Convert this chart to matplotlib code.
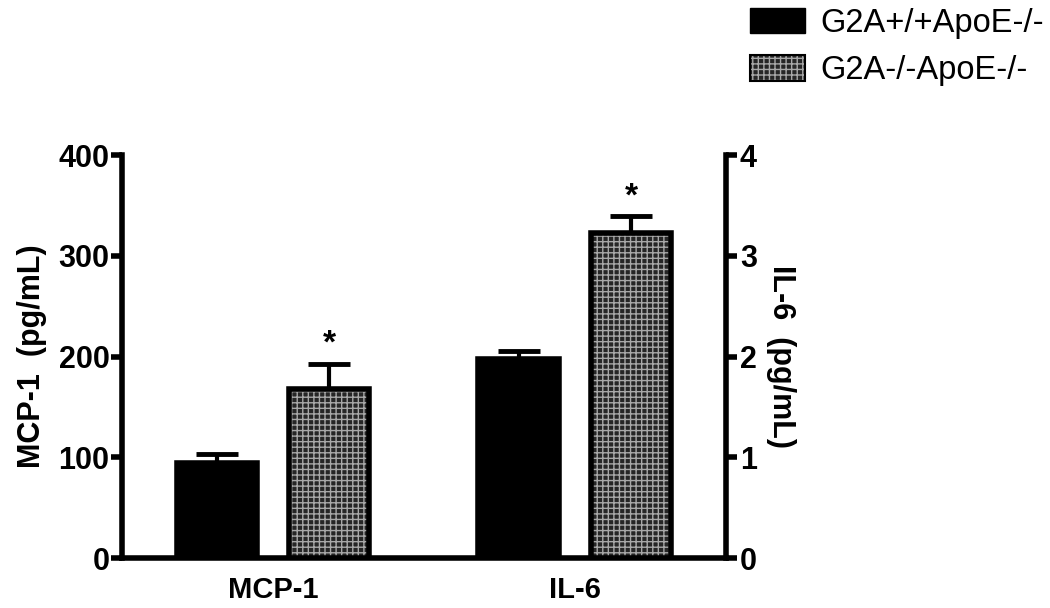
import matplotlib
matplotlib.use("Agg")
import matplotlib.pyplot as plt
import numpy as np
from matplotlib.patches import Patch
from matplotlib.legend_handler import HandlerTuple

plt.rcParams["font.family"] = ["Liberation Sans", "DejaVu Sans"]
plt.rcParams["hatch.linewidth"] = 1.0

# data
groups = ["MCP-1", "IL-6"]
series = ["G2A+/+ApoE-/-", "G2A-/-ApoE-/-"]
wt_mean = [94, 1.98]      # MCP-1 on left axis (pg/mL), IL-6 on right axis (pg/mL)
wt_err = [9, 0.07]
ko_mean = [168, 3.23]
ko_err = [25, 0.16]
signif = [True, True]     # asterisk above the knockout bar

fig = plt.figure(figsize=(10.5, 6.08), dpi=100)
ax = fig.add_axes([0.1162, 0.0822, 0.5752, 0.6628])
ax2 = ax.twinx()

x = np.arange(len(groups))
width = 0.265
off = 0.187
lw = 4
hatch_face = "#262626"
hatch_col = "#a8a8a8"


def draw(axis, i):
    # black bar
    axis.bar(x[i] - off, wt_mean[i], width, color="black", edgecolor="black", linewidth=lw, zorder=3)
    axis.errorbar(x[i] - off, wt_mean[i], yerr=[[0], [wt_err[i]]], fmt="none", ecolor="black",
                  elinewidth=3, capsize=15, capthick=3.5, zorder=2)
    # hatched bar: pattern first, outline on top
    axis.bar(x[i] + off, ko_mean[i], width, color=hatch_face, edgecolor=hatch_col, hatch="+++",
             linewidth=0, zorder=3)
    axis.bar(x[i] + off, ko_mean[i], width, fill=False, edgecolor="black", linewidth=lw, zorder=4)
    axis.errorbar(x[i] + off, ko_mean[i], yerr=[[0], [ko_err[i]]], fmt="none", ecolor="black",
                  elinewidth=3, capsize=15, capthick=3.5, zorder=2)
    if signif[i]:
        axis.annotate("*", (x[i] + off, ko_mean[i] + ko_err[i]), xytext=(0, 3),
                      textcoords="offset points", ha="center", va="bottom",
                      fontsize=24, fontweight="bold")


draw(ax, 0)
draw(ax2, 1)

ax.set_xlim(-0.5, 1.5)
ax.set_ylim(0, 400)
ax2.set_ylim(0, 4)
ax.set_yticks([0, 100, 200, 300, 400])
ax2.set_yticks([0, 1, 2, 3, 4])
ax.set_xticks(x)
ax.set_xticklabels(groups, fontsize=21, fontweight="bold")
ax.tick_params(axis="x", length=0, pad=13)
ax.tick_params(axis="y", length=8, width=4, labelsize=22, pad=1)
ax2.tick_params(axis="y", length=8, width=4, labelsize=22, pad=2)
for t in ax.get_yticklabels() + ax2.get_yticklabels():
    t.set_fontweight("bold")

for a in (ax, ax2):
    a.spines["top"].set_visible(False)
    for s in ("left", "right", "bottom"):
        a.spines[s].set_linewidth(4)
ax.spines["right"].set_visible(False)
ax2.spines["left"].set_visible(False)
ax2.spines["bottom"].set_visible(False)

ax.set_ylabel("MCP-1  (pg/mL)", fontsize=22, fontweight="bold", labelpad=8)
ax2.set_ylabel("IL-6  (pg/mL)", fontsize=22, fontweight="bold", rotation=270, labelpad=28)

h1 = Patch(facecolor="black", edgecolor="black")
h2a = Patch(facecolor=hatch_face, edgecolor=hatch_col, hatch="+++", linewidth=0)
h2b = Patch(fill=False, edgecolor="black", linewidth=1.5)
fig.legend([h1, (h2a, h2b)], series, loc="upper right", bbox_to_anchor=(1.022, 1.035),
           frameon=False, fontsize=23.5, handlelength=1.7, handleheight=0.82,
           handletextpad=0.45, labelspacing=0.5,
           handler_map={tuple: HandlerTuple(ndivide=1, pad=0)})

fig.savefig("out.png", dpi=100)
